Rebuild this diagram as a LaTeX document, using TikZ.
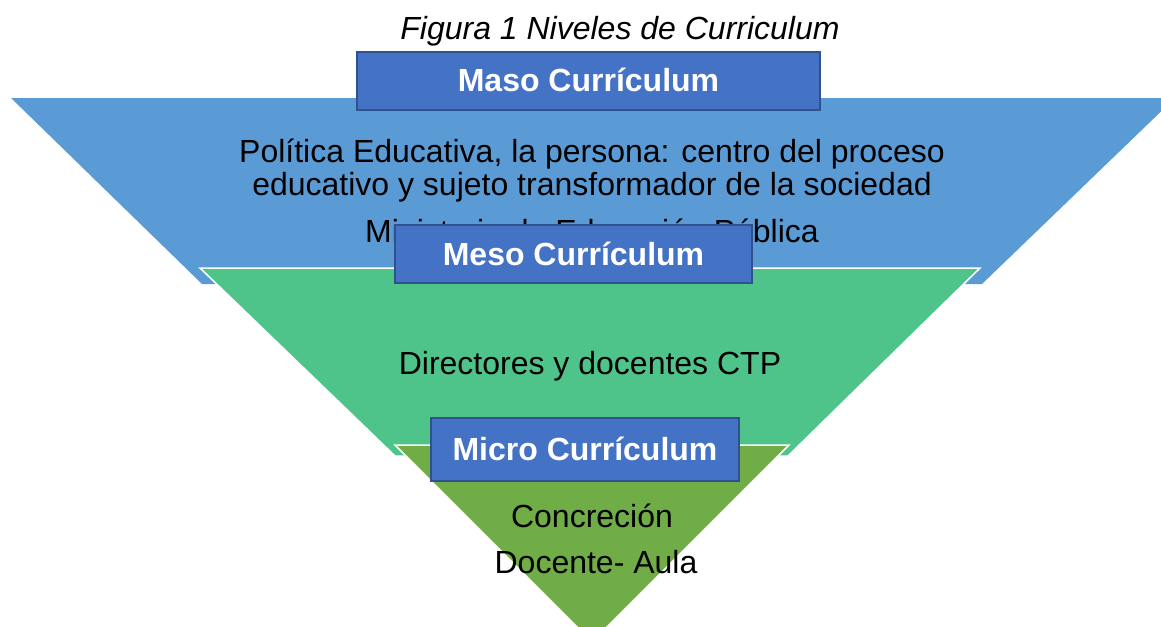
\documentclass[tikz,border=0pt]{standalone}
\usepackage{fontspec}
\setmainfont{Liberation Sans}
\definecolor{lvlblue}{HTML}{5B9BD5}
\definecolor{lvlgreen}{HTML}{4EC48B}
\definecolor{lvlolive}{HTML}{70AD47}
\definecolor{boxfill}{HTML}{4472C4}
\definecolor{boxline}{HTML}{2F528F}
\tikzset{
  lvlbox/.style={draw=boxline, line width=1.5pt, fill=boxfill, text=white,
    font=\fontsize{32}{38}\selectfont\bfseries, text height=22pt, text depth=0pt,
    inner sep=0pt, anchor=center},
  body/.style={font=\fontsize{32}{38}\selectfont, text=black, anchor=base, inner sep=0pt},
  layer/.style={draw=white, line width=1.5pt}
}
\begin{document}
\begin{tikzpicture}[x=1pt,y=-1pt]
\useasboundingbox (0,0) rectangle (1161,626);
\begin{scope}
\clip (0,0) rectangle (1161,626);
% blue layer
\fill[lvlblue] (11,98) -- (1175,98) -- (982,284) -- (202,284) -- cycle;
% green layer
\filldraw[lvlgreen,layer] (200,268) -- (980,268) -- (788,456) -- (395,456) -- cycle;
% olive layer
\filldraw[lvlolive,layer] (395,445) -- (789,445) -- (592,642) -- cycle;
\end{scope}
% title
\node[body, font=\fontsize{32}{38}\selectfont\itshape] (title) at (620,40) {Figura 1 Niveles de Curriculum};
% texts
\node[body] (t1) at (592,162) {Política Educativa, la persona: centro del proceso};
\node[body] (t2) at (592,195) {educativo y sujeto transformador de la sociedad};
\node[body] (t3) at (592,242) {Ministerio de Educación Pública};
\node[body] (t4) at (590,374) {Directores y docentes CTP};
\node[body] (t5) at (592,527) {Concreción};
\node[body] (t6) at (596,573) {Docente- Aula};
% label boxes
\node[lvlbox, minimum width=463pt, minimum height=58pt] (maso) at (588.5,81) {Maso Currículum};
\node[lvlbox, minimum width=357pt, minimum height=58pt] (meso) at (573.5,254) {Meso Currículum};
\node[lvlbox, minimum width=308pt, minimum height=63pt] (micro) at (585,449.5) {Micro Currículum};
\end{tikzpicture}
\end{document}
